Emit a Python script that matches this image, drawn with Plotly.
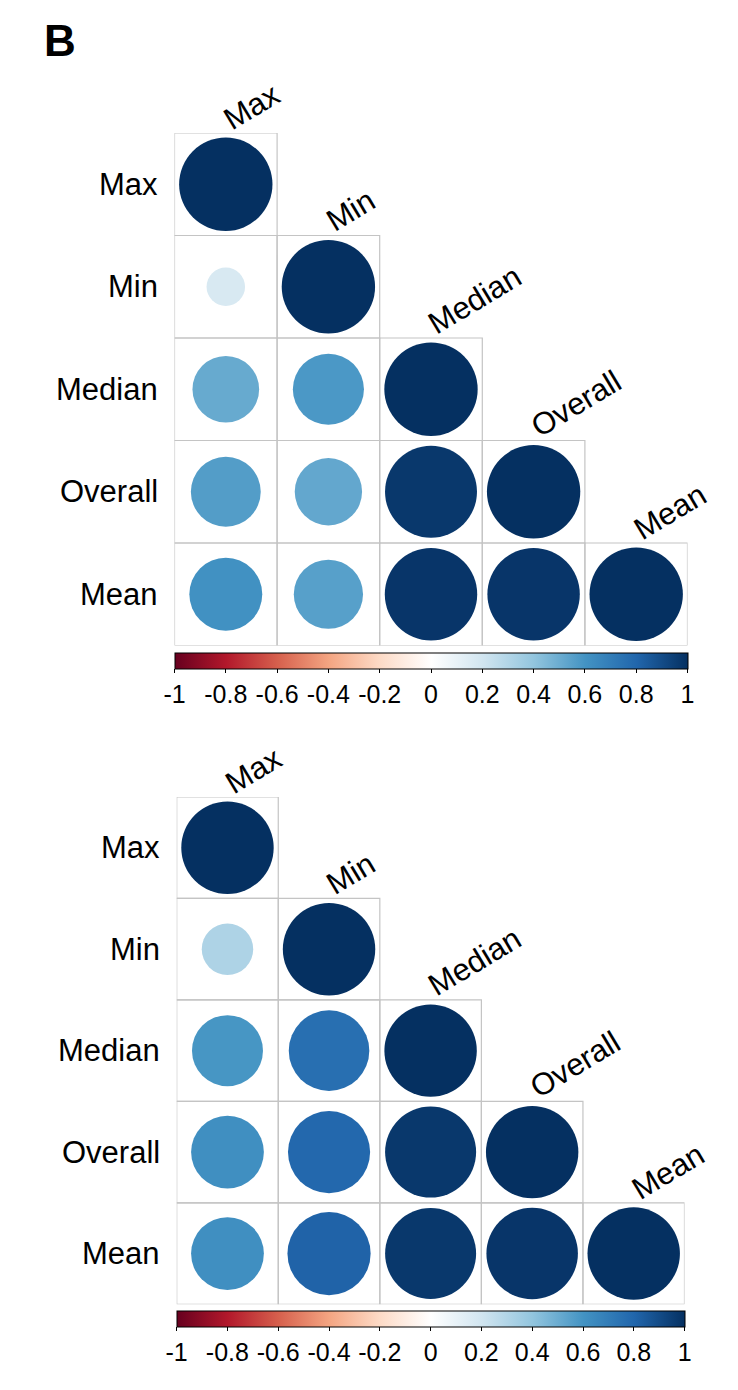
import numpy as np
import plotly.graph_objects as go

# ---------------- data ----------------
labels = ["Max", "Min", "Median", "Overall", "Mean"]

# lower-triangle correlation values (row i, columns 0..i)
corr_top = [
    [1.00],
    [0.17, 1.00],
    [0.51, 0.58, 1.00],
    [0.56, 0.52, 0.97, 1.00],
    [0.61, 0.55, 0.98, 0.98, 1.00],
]
corr_bottom = [
    [1.00],
    [0.31, 1.00],
    [0.59, 0.76, 1.00],
    [0.62, 0.79, 0.97, 1.00],
    [0.62, 0.81, 0.97, 0.98, 1.00],
]

cbar_tickvals = [-1, -0.8, -0.6, -0.4, -0.2, 0, 0.2, 0.4, 0.6, 0.8, 1]
cbar_ticktext = ["-1", "-0.8", "-0.6", "-0.4", "-0.2", "0", "0.2", "0.4", "0.6", "0.8", "1"]

# ---------------- style ----------------
W, H = 738, 1390
FONT = "Liberation Sans, Arial, sans-serif"
rdbu = ["#67001F", "#B2182B", "#D6604D", "#F4A582", "#FDDBC7", "#FFFFFF",
        "#D1E5F0", "#92C5DE", "#4393C3", "#2166AC", "#053061"]
colorscale = [[i / (len(rdbu) - 1), c] for i, c in enumerate(rdbu)]
GRID_COL = "#c4c4c4"

# panel geometry in page pixels: (left, right, top, bottom), colorbar top
panels = [
    dict(corr=corr_top, box=(174.5, 687.5, 133.0, 645.5), cb_top=653.0),
    dict(corr=corr_bottom, box=(176.7, 684.5, 797.0, 1304.3), cb_top=1311.0),
]

fig = go.Figure()
n = len(labels)
annotations = []
shapes = []

for k, p in enumerate(panels):
    L, R, T, B = p["box"]
    sfx = "" if k == 0 else str(k + 1)
    xa, ya = "x" + sfx, "y" + sfx
    cell_px = (R - L) / n
    dmax = 0.91 * cell_px

    xs, ys, vals = [], [], []
    for i, row in enumerate(p["corr"]):
        for j, v in enumerate(row):
            xs.append(j + 1)
            ys.append(i + 1)
            vals.append(v)
            shapes.append(dict(type="rect", xref=xa, yref=ya,
                               x0=j + 0.5, x1=j + 1.5, y0=i + 0.5, y1=i + 1.5,
                               line=dict(color=GRID_COL, width=1.2),
                               layer="below"))
    vals = np.array(vals)
    sizes = dmax * np.sqrt(np.abs(vals))

    fig.add_trace(go.Scatter(
        x=xs, y=ys, mode="markers", xaxis=xa, yaxis=ya,
        hovertext=[f"{v:.2f}" for v in vals], hoverinfo="text",
        marker=dict(size=sizes, color=vals, colorscale=colorscale,
                    cmin=-1, cmax=1, line=dict(width=0), opacity=1,
                    showscale=True,
                    colorbar=dict(
                        orientation="h",
                        lenmode="pixels", len=R - L,
                        thickness=16, thicknessmode="pixels",
                        x=(L + R) / 2 / W, xanchor="center",
                        y=1 - p["cb_top"] / H, yanchor="top",
                        xpad=0, ypad=0,
                        outlinecolor="black", outlinewidth=1,
                        tickmode="array", tickvals=cbar_tickvals,
                        ticktext=cbar_ticktext,
                        ticks="outside", ticklen=4, tickcolor="black",
                        tickwidth=1,
                        tickfont=dict(family=FONT, size=25, color="black"),
                    )),
        showlegend=False,
    ))

    fig.layout["xaxis" + sfx] = dict(domain=[L / W, R / W], range=[0.5, n + 0.5],
                                     visible=False, fixedrange=True)
    fig.layout["yaxis" + sfx] = dict(domain=[1 - B / H, 1 - T / H], range=[n + 0.5, 0.5],
                                     visible=False, fixedrange=True)

    # left row labels
    for i, lab in enumerate(labels):
        annotations.append(dict(xref=xa, yref=ya, x=0.5, y=i + 1, text=lab,
                                showarrow=False, xanchor="right", yanchor="middle",
                                xshift=-15,
                                font=dict(family=FONT, size=31, color="black")))
    # diagonal top labels
    for i, lab in enumerate(labels):
        annotations.append(dict(xref=xa, yref=ya, x=i + 1, y=i + 0.5, text=lab,
                                showarrow=False, xanchor="left", yanchor="bottom",
                                textangle=-31, xshift=-11, yshift=-6,
                                font=dict(family=FONT, size=31, color="black")))

annotations.append(dict(xref="paper", yref="paper", x=42 / W, y=1 - 41 / H,
                        text="<b>B</b>", showarrow=False, xanchor="left",
                        yanchor="middle",
                        font=dict(family=FONT, size=44, color="black")))

fig.update_layout(
    width=W, height=H,
    margin=dict(l=0, r=0, t=0, b=0),
    paper_bgcolor="white", plot_bgcolor="white",
    annotations=annotations, shapes=shapes,
    showlegend=False,
)

fig.write_html("out.html")
